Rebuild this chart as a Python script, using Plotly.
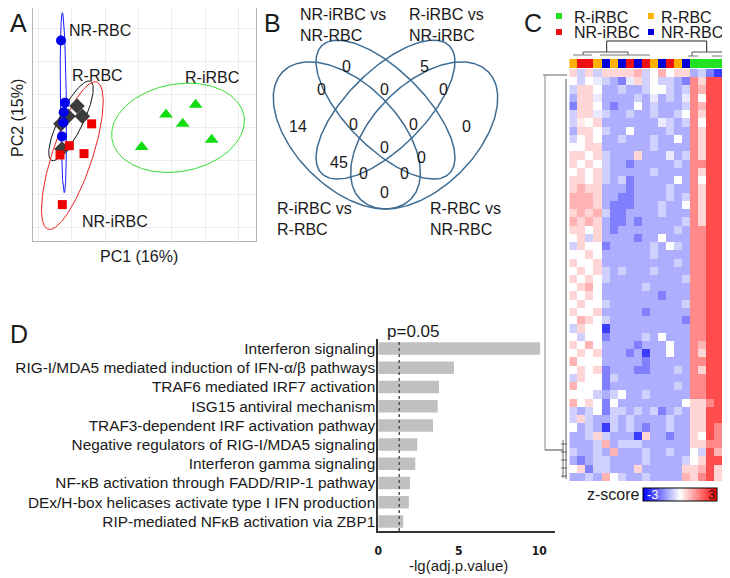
import numpy as np
import plotly.graph_objects as go

# The page body adds an 8px margin, so the figure is 8px smaller and all
# layout positions below are given in page pixels and shifted by OFF.
OFF = 8
W, H = 730 - OFF, 578 - OFF
def px(x): return (x - OFF) / W
def py(y): return 1 - (y - OFF) / H

FONT = "Liberation Sans, Arial, Helvetica, sans-serif"
TXT = "#1a1a1a"

# ---------------- Panel A: PCA ----------------
nr_rbc_pc1 = [-6.6, -6.0, -6.2, -6.25, -6.45]
nr_rbc_pc2 = [13.2, 3.8, 2.35, 0.8, -1.3]
r_rbc_pc1 = [-4.2, -3.4, -5.55, -6.6, -6.45]
r_rbc_pc2 = [3.3, 1.75, 1.75, 0.6, -3.2]
nr_irbc_pc1 = [-2.0, -5.35, -6.75, -3.15, -6.4]
nr_irbc_pc2 = [0.6, -2.7, -4.1, -3.9, -11.6]
r_irbc_pc1 = [13.6, 9.15, 11.65, 5.5, 16.0]
r_irbc_pc2 = [3.5, 2.0, 0.6, -2.9, -1.8]

# confidence ellipses: NR-RBC, R-RBC, NR-iRBC, R-iRBC
ell_groups = ["NR-RBC", "R-RBC", "NR-iRBC", "R-iRBC"]
ell_cx = [-6.25, -5.1, -4.9, 10.95]
ell_cy = [3.8, 1.06, -4.2, 0.0]
ell_a = [13.6, 6.65, 11.7, 10.05]
ell_b = [0.45, 1.8, 3.0, 6.6]
ell_angle = [90.6, 63.9, 71.8, 10.6]
ell_colors = ["#1a1aff", "#111111", "#ee2222", "#33dd33"]

# ---------------- Panel B: Venn ----------------
venn_cx = [0.35, 0.50, 0.50, 0.65]
venn_cy = [0.47, 0.57, 0.57, 0.47]
venn_a = [0.35, 0.35, 0.35, 0.35]
venn_b = [0.20, 0.15, 0.15, 0.20]
venn_rot = [135, 135, 45, 45]
venn_counts = ["0", "5", "0", "0", "0", "14", "0", "0", "0", "0", "45", "0", "0", "0", "0"]
venn_count_x = [0.350, 0.650, 0.250, 0.498, 0.724, 0.162, 0.375, 0.608, 0.812, 0.498, 0.320, 0.638, 0.414, 0.573, 0.498]
venn_count_y = [0.736, 0.736, 0.649, 0.649, 0.649, 0.504, 0.514, 0.514, 0.504, 0.422, 0.366, 0.385, 0.323, 0.323, 0.248]
venn_labels = ["NR-iRBC vs<br>NR-RBC", "R-iRBC vs<br>NR-iRBC", "R-iRBC vs<br>R-RBC", "R-RBC vs<br>NR-RBC"]

# ---------------- Panel C: heatmap ----------------
col_groups = ["R-RBC", "NR-iRBC", "NR-iRBC", "R-RBC", "NR-RBC", "R-RBC", "NR-RBC", "NR-iRBC",
              "NR-RBC", "NR-iRBC", "R-RBC", "NR-RBC", "NR-iRBC", "R-RBC", "NR-RBC",
              "R-iRBC", "R-iRBC", "R-iRBC", "R-iRBC", "R-iRBC"]
group_order = ["R-iRBC", "R-RBC", "NR-iRBC", "NR-RBC"]
group_colors = ["#22e022", "#ffb000", "#ee1111", "#0000dd"]
# letter codes for z-scores
zcode = {"B": -2.3, "b": -1.5, "m": -0.95, "l": -0.55, "n": -0.25, "w": 0.0, "k": 0.25,
         "q": 0.5, "p": 0.9, "r": 1.4, "R": 2.1}
heat_rows = [
    "qlqlqqqqplwpwqqmlbBm", "wlwnlmbnqlwllmbrqRRr", "lqqwmmlmmlwwlmlrpRRr", "mqqnmmmmlmnmlmnrwRRr",
    "bqqwmbmmwmlmmmlrpRRr", "lqqnlmmlmmlmmlwrqRRr", "lkwqmmmmmmmnlmlrwRRr", "mqqwlmmwmmmmlmmrqRRr",
    "lwqwmmlmmmlmmwmrqRRr", "wwqqmmmmmmlmmmmrqRRr", "qqwqlmmmqmmmnmlrqRRr", "qwqwlmmbmmmmmlmrrRRr",
    "wqwqlmmmmmlmmmmrqRRr", "qqwqlmlbmmmmmwmrwRRr", "qpqqmmmbmmmmlmmrqRRr", "pppqmmbbmmmmlmlrqRRr",
    "pppqmbbbmmmlmmwrqRRr", "qpqplbbmmmmlmmmrqRRr", "pqpqmbbmbmmmmmlrqRRr", "qqwqmbmmmmmmmlmrrRRr",
    "wqlqmmmmbmmwmmmrrRRr", "lqwwbmmmmmlmwlmrrRRr", "wwqwmmmmmmlmmmmrrRRr", "qwwqmmmmmmmmmlmrrRRr",
    "wqwqlmlmmmlmmmmrrRRr", "qwqwlmmmmmmmmmlrrRRr", "wqpwmmmmmlmmmmmrrRRr", "qwqwmmmmmmmbmmmrrRRr",
    "wqwwlmmmmmmmmmlrrRRr", "qwwqmmmmmbmmmmmrrRRr", "wpqwlmmmmmmmmmbrrRRr", "lqwwBmmmmmmmmmmrrRRr",
    "wlwwbmmmmlmwmmmrrRRr", "qwpwmmmmbmmmwmmrpRRr", "wqwqmmmbmBmmwmmrqRRr", "pwwwmmmmmbmmmmmrrRRr",
    "wqwqbmmmbbmmmlmrqRRr", "lqwwblmmmmmmmmmrrRRr", "pwwwbmmmmmmmmlmrrRRr", "wwwlmlwmmlmmmmmrrRRr",
    "pwqwbwmmmmmmmmwqqrRr", "lmlwbllmlmlbmlmqqRRr", "lqlmmlmlmmmmlmmqqRRr", "wmlmBlmlmbmmlmmqqRrr",
    "mmlqlmmmBqmmbmmqwRrr", "mmmlpmlllmmmmmmqqrrr", "lmmlmpmmmlmmlmmwlRpr", "mbmllmmmmlmmmmlwqRRp",
    "wqbllmmmqmmmmmqqpRqr", "mmlmpwlmmlmmmmpqrRqq",
]
heat_z = [[zcode[c] for c in row] for row in heat_rows]

# ---------------- Panel D: pathways ----------------
pathways = ["Interferon signaling",
            "RIG-I/MDA5 mediated induction of IFN-α/β pathways",
            "TRAF6 mediated IRF7 activation",
            "ISG15 antiviral mechanism",
            "TRAF3-dependent IRF activation pathway",
            "Negative regulators of RIG-I/MDA5 signaling",
            "Interferon gamma signaling",
            "NF-κB activation through FADD/RIP-1 pathway",
            "DEx/H-box helicases activate type I IFN production",
            "RIP-mediated NFκB activation via ZBP1"]
neg_lg_padj = [10.06, 4.70, 3.77, 3.69, 3.40, 2.42, 2.30, 1.97, 1.90, 1.55]
p_threshold = 0.05

fig = go.Figure()

def ellipse(cx, cy, a, b, ang):
    t = np.linspace(0, 2 * np.pi, 241)
    th = np.deg2rad(ang)
    x = cx + a * np.cos(t) * np.cos(th) - b * np.sin(t) * np.sin(th)
    y = cy + a * np.cos(t) * np.sin(th) + b * np.sin(t) * np.cos(th)
    return x, y

for i in range(4):
    ex, ey = ellipse(ell_cx[i], ell_cy[i], ell_a[i], ell_b[i], ell_angle[i])
    fig.add_trace(go.Scatter(x=ex, y=ey, mode="lines", line=dict(color=ell_colors[i], width=1),
                             xaxis="x", yaxis="y", hoverinfo="skip"))

pca_sets = [
    (r_rbc_pc1, r_rbc_pc2, "diamond", "#3c3c3c", 12),
    (nr_irbc_pc1, nr_irbc_pc2, "square", "#ee0000", 9),
    (nr_rbc_pc1, nr_rbc_pc2, "circle", "#0000ee", 10),
    (r_irbc_pc1, r_irbc_pc2, "triangle-up", "#11dd11", 12),
]
for xs, ys, sym, col, sz in pca_sets:
    fig.add_trace(go.Scatter(x=xs, y=ys, mode="markers", xaxis="x", yaxis="y",
                             marker=dict(symbol=sym, color=col, size=sz, line=dict(width=0))))

for i in range(4):
    ex, ey = ellipse(venn_cx[i], venn_cy[i], venn_a[i], venn_b[i], venn_rot[i])
    fig.add_trace(go.Scatter(x=ex, y=ey, mode="lines", line=dict(color="#3e6d94", width=1.5),
                             xaxis="x2", yaxis="y2", hoverinfo="skip"))

fig.add_trace(go.Heatmap(z=heat_z, x=list(range(20)), y=list(range(len(heat_rows))),
                         xaxis="x3", yaxis="y3", zmin=-3, zmax=3,
                         colorscale=[[0, "#0000ff"], [0.5, "#ffffff"], [1, "#ff0000"]],
                         colorbar=dict(orientation="h", x=px(643), xanchor="left", y=py(495), yanchor="middle",
                                       len=74, lenmode="pixels", thickness=13, thicknessmode="pixels",
                                       outlinecolor="black", outlinewidth=1, showticklabels=False, ticks="",
                                       xpad=0, ypad=0)))
col_codes = [[group_order.index(g) for g in col_groups]]
dscale = []
for k, c in enumerate(group_colors):
    dscale += [[k / 4, c], [(k + 1) / 4, c]]
fig.add_trace(go.Heatmap(z=col_codes, x=list(range(20)), y=[0], xaxis="x4", yaxis="y4",
                         zmin=-0.5, zmax=3.5, colorscale=dscale, showscale=False))

fig.add_trace(go.Bar(x=neg_lg_padj, y=pathways, orientation="h", marker=dict(color="#c0c0c0", line=dict(width=0)),
                     width=0.65, xaxis="x5", yaxis="y5"))

def hidden(anchor):
    return dict(visible=False, showgrid=False, zeroline=False, automargin=False, anchor=anchor)

layout = dict(
    width=W, height=H, margin=dict(l=0, r=0, t=0, b=0, autoexpand=False),
    paper_bgcolor="white", plot_bgcolor="white", showlegend=False,
    font=dict(family=FONT, color=TXT, size=16),
    xaxis=dict(domain=[px(33), px(256)], range=[-10.8, 22.65], tick0=-10, dtick=5, showgrid=True,
               gridcolor="#ececec", gridwidth=1, zeroline=False, showticklabels=False, ticks="",
               showline=True, mirror=True, linecolor="#b5b5b5", linewidth=1, automargin=False, anchor="y"),
    yaxis=dict(domain=[py(241), 1], range=[-17.1, 18.1], tick0=0, dtick=5, showgrid=True,
               gridcolor="#ececec", gridwidth=1, zeroline=False, showticklabels=False, ticks="",
               showline=True, mirror=True, linecolor="#b5b5b5", linewidth=1, automargin=False, anchor="x"),
    xaxis2=dict(domain=[px(256.5), px(514.5)], range=[0, 1], **hidden("y2")),
    yaxis2=dict(domain=[py(256.7), 1], range=[0, (256.7 - OFF) / 258], **hidden("x2")),
    xaxis3=dict(domain=[px(569.3), 1], range=[-0.5, 19.5], **hidden("y3")),
    yaxis3=dict(domain=[py(481), py(69)], range=[len(heat_rows) - 0.5, -0.5], **hidden("x3")),
    xaxis4=dict(domain=[px(569.3), 1], range=[-0.5, 19.5], **hidden("y4")),
    yaxis4=dict(domain=[py(68), py(59)], range=[-0.5, 0.5], **hidden("x4")),
    xaxis5=dict(domain=[px(378.3), px(555)], range=[0, 10.98], tickvals=[0, 5, 10],
                ticktext=["<b>0</b>", "<b>5</b>", "<b>10</b>"], anchor="y5",
                showgrid=False, zeroline=False, showline=True, linecolor="#333333", linewidth=2,
                ticks="outside", ticklen=8, tickcolor="rgba(0,0,0,0)", automargin=False,
                tickfont=dict(family="Liberation Sans Narrow, DejaVu Sans Condensed, sans-serif", size=12, color=TXT)),
    yaxis5=dict(domain=[py(531), py(339)], autorange="reversed", showgrid=False, zeroline=False, anchor="x5",
                showline=True, linecolor="#333333", linewidth=2, ticks="", automargin=False,
                ticklabelstandoff=-2,
                tickfont=dict(family=FONT, size=15.4, color=TXT)),
)
fig.update_layout(**layout)

ann = []
def A(x, y, text, size=16, xanchor="center", yanchor="middle", **kw):
    d = dict(x=px(x), y=py(y), xref="paper", yref="paper", text=text, showarrow=False,
             font=dict(family=FONT, size=size, color=kw.pop("color", TXT)), xanchor=xanchor, yanchor=yanchor)
    d.update(kw)
    ann.append(d)

A(8, 23, "A", 25, xanchor="left")
A(272, 23, "B", 25)
A(533, 23, "C", 25)
A(8, 334, "D", 25, xanchor="left")
A(67, 30, "NR-RBC", xanchor="left")
A(70, 75, "R-RBC", xanchor="left")
A(183, 77, "R-iRBC", xanchor="left")
A(80, 221, "NR-iRBC", xanchor="left")
A(139, 256, "PC1 (16%)")
A(18, 118, "PC2 (15%)", textangle=-90)
for t, vx, vy in zip(venn_counts, venn_count_x, venn_count_y):
    ann.append(dict(x=vx, y=vy, xref="x2", yref="y2", text=t, showarrow=False,
                    font=dict(family=FONT, size=16, color=TXT)))
A(299, 25, venn_labels[0], xanchor="left", align="left", borderpad=0)
A(408, 25, venn_labels[1], xanchor="left", align="left", borderpad=0)
A(275, 219, venn_labels[2], xanchor="left", align="left")
A(428, 219, venn_labels[3], xanchor="left", align="left")
A(573, 17, "R-iRBC", xanchor="left", borderpad=0)
A(660, 17, "R-RBC", xanchor="left", borderpad=0)
A(573, 32, "NR-iRBC", xanchor="left", borderpad=0)
A(660, 32, "NR-RBC", xanchor="left", borderpad=0)
A(585, 494, "z-score", xanchor="left")
A(653, 494, "-3", 13, color="white")
A(711, 494, "3", 13)
ann.append(dict(x=px(385), y=py(331), xref="paper", yref="paper", text="p=0.05", showarrow=False,
                xanchor="left", yanchor="middle", font=dict(family=FONT, size=17, color=TXT)))
A(458, 565, "-lg(adj.p.value)", 15)
fig.update_layout(annotations=ann)

shapes = []
def L(x0, y0, x1, y1, color="#222222", width=1):
    shapes.append(dict(type="line", xref="paper", yref="paper", x0=px(x0), y0=py(y0), x1=px(x1), y1=py(y1),
                       line=dict(color=color, width=width)))
for (kx, ky), c in zip([(556, 13), (648, 13), (556, 29), (648, 29)], ["#22e022", "#ffb000", "#ee1111", "#0000dd"]):
    shapes.append(dict(type="rect", xref="paper", yref="paper", x0=px(kx), x1=px(kx + 6), y0=py(ky), y1=py(ky + 6),
                       fillcolor=c, line=dict(width=0)))
L(606.7, 41, 706.7, 41)
L(606.7, 41, 606.7, 52)
L(706.7, 41, 706.7, 52)
L(583, 52, 628, 52, "#555555")
L(583, 52, 583, 55, "#555555"); L(628, 52, 628, 55, "#555555")
L(573, 55, 592, 55, "#777777"); L(600, 55, 650, 55, "#777777")
L(692, 52, 724, 52, "#555555")
L(692, 52, 692, 56, "#555555"); L(724, 52, 724, 56, "#555555")
L(688, 56, 698, 56, "#777777"); L(712, 56, 728, 56, "#777777")
L(543, 75, 567, 75, "#666666")
L(545, 75, 545, 450, "#8a8a8a")
L(545, 450, 563, 450, "#444444")
L(566, 79, 566, 479, "#555555")
L(563, 440, 563, 478, "#666666")
for yy in [444, 452, 460, 468, 476]:
    L(561, yy, 567, yy, "#666666")
shapes.append(dict(type="line", xref="x5", yref="y5 domain", x0=-np.log10(p_threshold), x1=-np.log10(p_threshold),
                   y0=0, y1=1, line=dict(color="#555555", width=1.5, dash="dot")))
fig.update_layout(shapes=shapes)

fig.write_html("out.html")
